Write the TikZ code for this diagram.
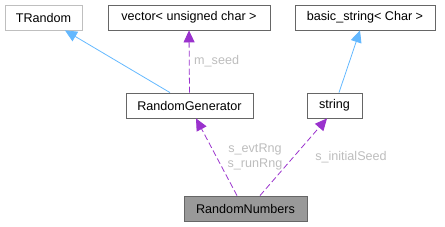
\documentclass[tikz,border=0pt]{standalone}
\usepackage{fontspec}
\setmainfont{Liberation Sans}
\usetikzlibrary{arrows.meta}
\definecolor{inhblue}{HTML}{63B8FF}
\definecolor{usepurple}{HTML}{9A32CD}
\definecolor{lblgray}{HTML}{BDBDBD}
\tikzset{
 cls/.style={rectangle,draw=black!60,line width=0.8pt,fill=white,minimum height=25pt,inner sep=0pt,font=\fontsize{12.6}{14}\selectfont},
 ext/.style={cls,draw=black!25},
 cur/.style={cls,fill=black!40},
 inh/.style={draw=inhblue,line width=0.8pt,-{Triangle[length=12pt,width=11pt]}},
 use/.style={draw=usepurple,line width=0.8pt,dash pattern=on 6pt off 3pt,-{Triangle[length=12pt,width=11pt]}},
 lbl/.style={text=lblgray,inner sep=0pt,font=\fontsize{12.6}{14}\selectfont}}

\begin{document}
\begin{tikzpicture}[x=1pt,y=-1pt]
 \useasboundingbox (0,0) rectangle (445,227);
 \node[ext,minimum width=77pt] (tr) at (43.5,17.5) {TRandom};
 \node[cls,minimum width=162pt] (vec) at (189,17.5) {vector< unsigned char >};
 \node[cls,minimum width=140pt] (bs) at (365,17.5) {basic\_string< Char >};
 \node[cls,minimum width=127pt] (rg) at (189.5,105.5) {RandomGenerator};
 \node[cls,minimum width=55pt] (str) at (334.5,105.5) {string};
 \node[cur,minimum width=123pt] (rn) at (245.5,208.5) {RandomNumbers};
 % inheritance
 \draw[inh] ([xshift=-19.5pt]rg.north) -- ([xshift=21.5pt]tr.south);
 \draw[inh] ([xshift=4.5pt]str.north) -- ([xshift=-5pt]bs.south);
 % usage
 \draw[use] (rg.north) -- (vec.south);
 \draw[use] ([xshift=-8.5pt]rn.north) -- ([xshift=6.5pt]rg.south);
 \draw[use] ([xshift=14.5pt]rn.north) -- ([xshift=-7.5pt]str.south);
 \node[lbl,anchor=west] (ms) at (194,61) {m\_seed};
 \node[lbl] (ev) at (255,149) {s\_evtRng};
 \node[lbl] (ru) at (255,164) {s\_runRng};
 \node[lbl] (is) at (351,157) {s\_initialSeed};
\end{tikzpicture}
\end{document}
